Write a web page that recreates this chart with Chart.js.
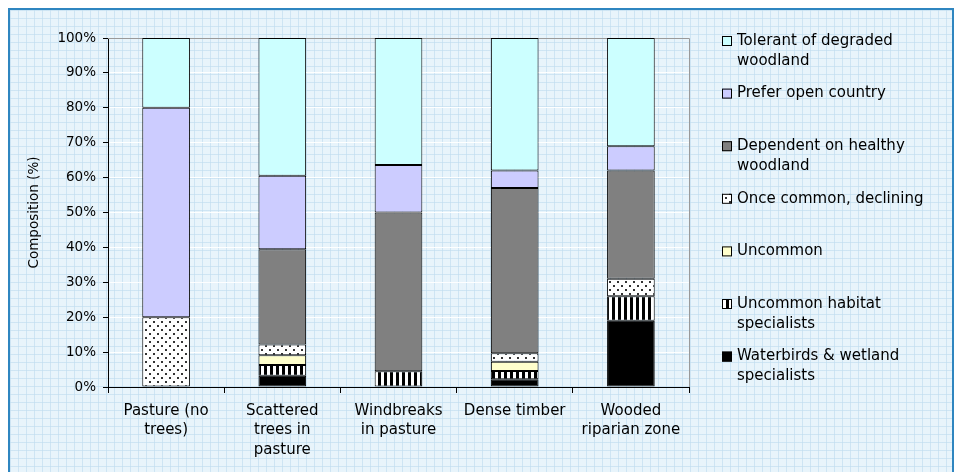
<!DOCTYPE html>
<html>
<head>
<meta charset="utf-8">
<script src="https://cdn.jsdelivr.net/npm/chart.js@4.4.1/dist/chart.umd.min.js"></script>
<style>
  html, body { margin: 0; padding: 0; background: #ffffff; }
  #frame {
    position: absolute; left: 8px; top: 8px; width: 942px; height: 470px;
    border: 2px solid #2f86c0;
    background-color: #e8f4fb;
    background-image:
      linear-gradient(rgba(195,222,240,0.7) 1px, transparent 1px),
      linear-gradient(90deg, rgba(195,222,240,0.7) 1px, transparent 1px);
    background-size: 8px 8px;
  }
  #wrap { position: absolute; left: 0; top: 0; width: 960px; height: 472px; }
</style>
</head>
<body>
<div id="frame"></div>
<div id="wrap"><canvas id="chart" width="960" height="472"></canvas></div>
<script>
// Habitat types along the x axis (multi-line labels)
const categories = [
  ['Pasture (no', 'trees)'],
  ['Scattered', 'trees in', 'pasture'],
  ['Windbreaks', 'in pasture'],
  ['Dense timber'],
  ['Wooded', 'riparian zone']
];

// Bird group composition (%) per habitat, bottom of stack first
const waterbirds   = [0, 3.2, 0, 2.2, 19];
const habitatSpec  = [0, 3.1, 4.5, 2.4, 7];
const uncommon     = [0, 2.8, 0, 2.6, 0];
const onceCommon   = [20, 3.1, 0, 2.5, 5];
const dependent    = [0, 27.3, 45.5, 47.3, 31];
const preferOpen   = [60, 21, 13.6, 5, 7];
const tolerant     = [20, 39.5, 36.4, 38, 31];

// Group names, wrapped as shown in the legend
const seriesNames = [
  ['Waterbirds & wetland', 'specialists'],
  ['Uncommon habitat', 'specialists'],
  ['Uncommon'],
  ['Once common, declining'],
  ['Dependent on healthy', 'woodland'],
  ['Prefer open country'],
  ['Tolerant of degraded', 'woodland']
];

const yTicks = [0, 10, 20, 30, 40, 50, 60, 70, 80, 90, 100];

const FONT = "'DejaVu Sans', sans-serif";

function makeDots() {
  const c = document.createElement('canvas');
  c.width = 8; c.height = 8;
  const g = c.getContext('2d');
  g.fillStyle = '#ffffff'; g.fillRect(0, 0, 8, 8);
  g.fillStyle = '#333333';
  g.fillRect(1, 1, 2, 2);
  g.fillRect(5, 5, 2, 2);
  return g.createPattern(c, 'repeat');
}
function makeStripes() {
  const c = document.createElement('canvas');
  c.width = 6; c.height = 6;
  const g = c.getContext('2d');
  g.fillStyle = '#ffffff'; g.fillRect(0, 0, 6, 6);
  g.fillStyle = '#000000'; g.fillRect(0, 0, 3, 6);
  return g.createPattern(c, 'repeat');
}

const fills = [
  '#000000',
  makeStripes(),
  '#ffffcc',
  makeDots(),
  '#808080',
  '#ccccff',
  '#ccffff'
];
const seriesData = [waterbirds, habitatSpec, uncommon, onceCommon, dependent, preferOpen, tolerant];

const datasets = seriesData.map((d, i) => ({
  label: seriesNames[i].join(' '),
  data: d,
  backgroundColor: fills[i],
  borderColor: '#000000',
  borderWidth: 1,
  borderSkipped: false,
  categoryPercentage: 1.0,
  barPercentage: 0.41
}));

// Plot-area frame (grey top and right edges)
const plotFrame = {
  id: 'plotFrame',
  beforeDatasetsDraw(chart) {
    const a = chart.chartArea, ctx = chart.ctx;
    ctx.save();
    ctx.strokeStyle = '#9a9a9a';
    ctx.lineWidth = 1;
    ctx.beginPath();
    ctx.moveTo(a.left, a.top + 0.5);
    ctx.lineTo(a.right + 0.5, a.top + 0.5);
    ctx.lineTo(a.right + 0.5, a.bottom);
    ctx.stroke();
    ctx.restore();
  }
};

// Right-hand legend with wrapped labels, top item = top of stack
const sideLegend = {
  id: 'sideLegend',
  afterDraw(chart) {
    const ctx = chart.ctx;
    ctx.save();
    ctx.font = '15px ' + FONT;
    ctx.textBaseline = 'middle';
    ctx.fillStyle = '#000000';
    const n = chart.data.datasets.length;
    for (let k = 0; k < n; k++) {
      const idx = n - 1 - k;
      const ds = chart.data.datasets[idx];
      const y0 = 41 + k * 52.6;
      ctx.fillStyle = ds.backgroundColor;
      ctx.fillRect(722, y0 - 5, 10, 10);
      ctx.strokeStyle = '#000000';
      ctx.lineWidth = 1;
      ctx.strokeRect(722.5, y0 - 4.5, 9, 9);
      ctx.fillStyle = '#000000';
      seriesNames[idx].forEach((line, j) => {
        ctx.fillText(line, 737, y0 + j * 20);
      });
    }
    ctx.restore();
  }
};

new Chart(document.getElementById('chart'), {
  type: 'bar',
  data: { labels: categories, datasets },
  options: {
    responsive: false,
    animation: false,
    layout: { padding: { left: 23, right: 271, top: 38, bottom: 0 } },
    plugins: {
      legend: { display: false },
      tooltip: { enabled: false }
    },
    scales: {
      x: {
        stacked: true,
        grid: {
          offset: true,
          drawOnChartArea: false,
          tickLength: 6,
          tickColor: '#000000'
        },
        border: { color: '#000000', width: 1 },
        ticks: {
          autoSkip: false,
          maxRotation: 0,
          padding: 8,
          color: '#000000',
          font: { family: FONT, size: 15, lineHeight: 1.3 }
        },
        afterFit(scale) { scale.height = 85; }
      },
      y: {
        stacked: true,
        min: 0,
        max: 100,
        afterBuildTicks(scale) { scale.ticks = yTicks.map(v => ({ value: v })); },
        grid: {
          color: 'rgba(255,255,255,0.95)',
          tickColor: '#000000',
          tickLength: 5
        },
        border: { color: '#000000', width: 1 },
        ticks: {
          padding: 7,
          color: '#000000',
          font: { family: FONT, size: 13.5 },
          callback: v => v + '%'
        },
        title: {
          display: true,
          text: 'Composition (%)',
          color: '#000000',
          font: { family: FONT, size: 13.5 },
          padding: { top: 3, bottom: 0 }
        },
        afterFit(scale) { scale.width = 85; }
      }
    }
  },
  plugins: [plotFrame, sideLegend]
});
</script>
</body>
</html>
